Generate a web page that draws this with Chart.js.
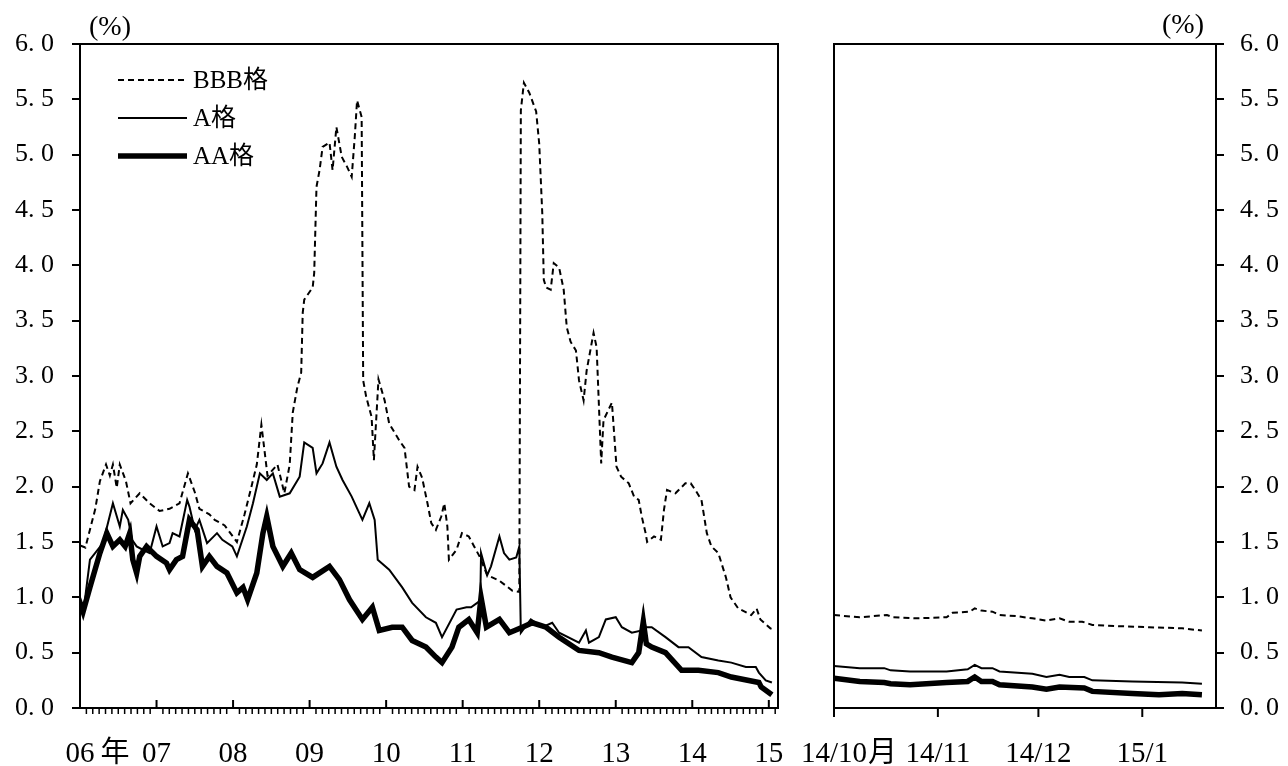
<!DOCTYPE html>
<html>
<head>
<meta charset="utf-8">
<script src="https://cdn.jsdelivr.net/npm/chart.js@4.4.1/dist/chart.umd.min.js"></script>
<style>
  html, body { margin: 0; padding: 0; background: #fff; }
  #wrap { position: relative; width: 1288px; height: 766px; overflow: hidden; }
  #left { position: absolute; left: 0; top: 0; }
  #right { position: absolute; left: 790px; top: 0; }
</style>
</head>
<body>
<div id="wrap">
  <canvas id="left" width="790" height="766"></canvas>
  <canvas id="right" width="498" height="766"></canvas>
</div>
<script>
// ---- data: long-run panel, [year, %] ----
const bbbLong = [
  [2006.00,1.47],[2006.07,1.45],[2006.20,1.80],[2006.26,2.05],[2006.34,2.20],[2006.39,2.10],[2006.43,2.20],
  [2006.48,1.99],[2006.52,2.20],[2006.60,2.05],[2006.66,1.85],[2006.78,1.94],[2006.91,1.85],[2007.04,1.78],
  [2007.17,1.80],[2007.30,1.85],[2007.41,2.12],[2007.50,1.95],[2007.56,1.80],[2007.69,1.75],[2007.76,1.70],
  [2007.89,1.65],[2008.05,1.50],[2008.15,1.75],[2008.24,2.00],[2008.31,2.20],[2008.37,2.56],[2008.45,2.10],
  [2008.58,2.20],[2008.67,1.94],[2008.74,2.20],[2008.78,2.67],[2008.84,2.90],[2008.89,3.03],[2008.91,3.57],
  [2008.93,3.69],[2009.04,3.80],[2009.06,3.93],[2009.09,4.71],[2009.13,4.86],[2009.17,5.07],[2009.26,5.11],
  [2009.30,4.86],[2009.35,5.25],[2009.42,4.98],[2009.49,4.89],[2009.55,4.80],[2009.59,5.16],[2009.62,5.49],
  [2009.68,5.34],[2009.70,2.96],[2009.74,2.81],[2009.81,2.63],[2009.84,2.24],[2009.90,2.97],[2009.98,2.78],
  [2010.04,2.57],[2010.17,2.42],[2010.24,2.35],[2010.30,2.00],[2010.37,1.97],[2010.41,2.18],[2010.47,2.08],
  [2010.54,1.85],[2010.59,1.67],[2010.65,1.61],[2010.72,1.73],[2010.76,1.85],[2010.80,1.64],[2010.82,1.34],
  [2010.92,1.43],[2010.99,1.58],[2011.08,1.55],[2011.15,1.46],[2011.22,1.37],[2011.32,1.20],[2011.48,1.15],
  [2011.65,1.06],[2011.74,1.05],[2011.76,5.40],[2011.80,5.65],[2011.87,5.56],[2011.96,5.39],[2012.00,5.10],
  [2012.04,4.47],[2012.06,3.87],[2012.09,3.80],[2012.15,3.78],[2012.19,4.02],[2012.26,3.98],[2012.32,3.78],
  [2012.36,3.44],[2012.41,3.31],[2012.48,3.23],[2012.52,2.96],[2012.58,2.78],[2012.62,3.05],[2012.71,3.39],
  [2012.75,3.26],[2012.81,2.21],[2012.84,2.60],[2012.95,2.76],[2013.01,2.18],[2013.07,2.09],[2013.17,2.03],
  [2013.24,1.91],[2013.30,1.88],[2013.34,1.73],[2013.39,1.58],[2013.41,1.50],[2013.50,1.55],[2013.59,1.52],
  [2013.63,1.79],[2013.67,1.97],[2013.78,1.94],[2013.91,2.03],[2013.98,2.03],[2014.04,1.97],[2014.12,1.88],
  [2014.19,1.58],[2014.25,1.46],[2014.34,1.40],[2014.44,1.18],[2014.50,1.00],[2014.60,0.90],[2014.77,0.84],
  [2014.84,0.90],[2014.89,0.80],[2015.02,0.72],[2015.06,0.71]
];
const aLong = [
  [2006.00,1.00],[2006.05,0.90],[2006.13,1.34],[2006.30,1.49],[2006.43,1.85],[2006.52,1.64],[2006.56,1.79],
  [2006.63,1.70],[2006.68,1.52],[2006.74,1.46],[2006.82,1.43],[2006.91,1.40],[2007.00,1.64],[2007.08,1.46],
  [2007.17,1.49],[2007.21,1.58],[2007.30,1.55],[2007.40,1.88],[2007.43,1.82],[2007.50,1.61],[2007.56,1.70],
  [2007.66,1.49],[2007.79,1.58],[2007.86,1.52],[2007.99,1.46],[2008.05,1.37],[2008.18,1.64],[2008.26,1.85],
  [2008.35,2.12],[2008.44,2.06],[2008.52,2.12],[2008.61,1.91],[2008.74,1.94],[2008.87,2.09],[2008.93,2.40],
  [2009.04,2.35],[2009.09,2.12],[2009.17,2.21],[2009.26,2.40],[2009.35,2.18],[2009.43,2.06],[2009.55,1.91],
  [2009.61,1.82],[2009.69,1.70],[2009.78,1.85],[2009.85,1.70],[2009.89,1.34],[2010.04,1.25],[2010.21,1.09],
  [2010.34,0.95],[2010.52,0.82],[2010.65,0.77],[2010.73,0.64],[2010.92,0.89],[2011.05,0.91],[2011.11,0.91],
  [2011.23,0.97],[2011.24,1.40],[2011.32,1.20],[2011.37,1.28],[2011.48,1.55],[2011.54,1.40],[2011.61,1.34],
  [2011.70,1.36],[2011.74,1.46],[2011.76,0.68],[2011.89,0.80],[2012.04,0.73],[2012.17,0.77],[2012.26,0.68],
  [2012.52,0.59],[2012.61,0.70],[2012.65,0.59],[2012.78,0.64],[2012.87,0.80],[2013.00,0.82],[2013.08,0.73],
  [2013.21,0.68],[2013.34,0.70],[2013.36,0.85],[2013.39,0.73],[2013.47,0.73],[2013.65,0.64],[2013.82,0.55],
  [2013.95,0.55],[2014.12,0.46],[2014.34,0.43],[2014.51,0.41],[2014.70,0.37],[2014.83,0.37],[2014.87,0.32],
  [2014.96,0.25],[2015.04,0.23]
];
const aaLong = [
  [2006.00,0.95],[2006.04,0.87],[2006.13,1.09],[2006.26,1.40],[2006.35,1.58],[2006.43,1.46],[2006.52,1.52],
  [2006.59,1.46],[2006.65,1.58],[2006.69,1.34],[2006.74,1.22],[2006.78,1.37],[2006.87,1.46],[2007.00,1.37],
  [2007.13,1.31],[2007.17,1.25],[2007.26,1.34],[2007.34,1.37],[2007.43,1.70],[2007.53,1.61],[2007.60,1.28],
  [2007.69,1.37],[2007.79,1.28],[2007.92,1.22],[2008.05,1.04],[2008.13,1.09],[2008.19,0.98],[2008.31,1.22],
  [2008.39,1.58],[2008.44,1.73],[2008.52,1.46],[2008.65,1.28],[2008.76,1.40],[2008.87,1.25],[2009.04,1.18],
  [2009.26,1.28],[2009.39,1.16],[2009.52,0.98],[2009.69,0.80],[2009.82,0.91],[2009.91,0.70],[2010.08,0.73],
  [2010.21,0.73],[2010.34,0.61],[2010.52,0.55],[2010.65,0.46],[2010.73,0.41],[2010.86,0.55],[2010.95,0.73],
  [2011.08,0.80],[2011.19,0.68],[2011.24,1.00],[2011.31,0.73],[2011.48,0.80],[2011.61,0.68],[2011.78,0.73],
  [2011.91,0.77],[2012.09,0.73],[2012.26,0.64],[2012.52,0.52],[2012.78,0.50],[2012.95,0.46],[2013.21,0.41],
  [2013.30,0.50],[2013.36,0.78],[2013.40,0.58],[2013.47,0.55],[2013.65,0.50],[2013.86,0.34],[2014.08,0.34],
  [2014.34,0.32],[2014.51,0.28],[2014.87,0.23],[2014.90,0.19],[2015.04,0.12]
];

// ---- data: recent panel, [days since 2014/10/1, %] ----
const bbbRecent = [
  [0,0.84],[7.7,0.82],[15.8,0.84],[17.6,0.82],[24.7,0.81],[33.6,0.82],[35.4,0.86],[40.5,0.87],[42,0.90],
  [44,0.88],[47.3,0.87],[49.4,0.84],[54.5,0.83],[59.2,0.81],[63.4,0.79],[67.3,0.81],[70.2,0.78],[74.1,0.78],
  [77.1,0.75],[84.2,0.74],[94,0.73],[103.9,0.72],[109.8,0.70]
];
const aRecent = [
  [0,0.38],[7.7,0.36],[15,0.36],[16.9,0.34],[22.7,0.33],[33.6,0.33],[39.9,0.35],[42,0.39],[44,0.36],
  [47.3,0.36],[49.4,0.33],[59.2,0.31],[63.4,0.28],[67.3,0.30],[70.2,0.28],[74.7,0.28],[77.1,0.25],
  [89,0.24],[103.9,0.23],[109.8,0.22]
];
const aaRecent = [
  [0,0.27],[7.7,0.24],[15,0.23],[16.9,0.22],[22.7,0.21],[33.6,0.23],[39.9,0.24],[42,0.28],[44,0.24],
  [47.3,0.24],[49.4,0.21],[59.2,0.19],[63.4,0.17],[67.3,0.19],[74.7,0.18],[77.1,0.15],[89,0.13],
  [97,0.12],[103.9,0.13],[109.8,0.12]
];

// ---- tick labels ----
const seriesNames = ['BBB格', 'A格', 'AA格'];
const yearTicks = [2006, 2007, 2008, 2009, 2010, 2011, 2012, 2013, 2014, 2015];
const yearLabels = ['06', '07', '08', '09', '10', '11', '12', '13', '14', '15'];
const monthTicks = [0, 31, 61, 92];
const monthLabels = ['14/10', '14/11', '14/12', '15/1'];

const FONT = "'Liberation Serif', 'Noto Sans CJK JP', serif";

function series(pairs, i) {
  const styles = [
    { borderWidth: 2, borderDash: [6, 4] },
    { borderWidth: 2, borderDash: [] },
    { borderWidth: 5.5, borderDash: [] }
  ];
  return Object.assign({
    label: seriesNames[i],
    data: pairs.map(p => ({ x: p[0], y: p[1] })),
    borderColor: '#000',
    pointRadius: 0,
    tension: 0,
    fill: false
  }, styles[i]);
}

function line(ctx, x1, y1, x2, y2) {
  ctx.beginPath(); ctx.moveTo(x1, y1); ctx.lineTo(x2, y2); ctx.stroke();
}

// draws frame, x ticks/labels, unit label and (optionally) the legend
function decor(cfg) {
  return {
    id: 'decor',
    afterDraw(chart) {
      const ctx = chart.ctx;
      const { left, right, top, bottom } = chart.chartArea;
      const xs = chart.scales.x;
      ctx.save();
      ctx.strokeStyle = '#000';
      ctx.fillStyle = '#000';
      ctx.lineWidth = 2;
      ctx.setLineDash([]);
      ctx.strokeRect(left, top, right - left, bottom - top);
      if (cfg.side === 'left') line(ctx, left - 8, top, left, top);
      else { line(ctx, right, top, right + 8, top); line(ctx, right, bottom, right + 8, bottom); }

      // major ticks
      cfg.ticks.forEach(v => {
        const px = xs.getPixelForValue(v);
        if (cfg.side === 'left') line(ctx, px, bottom, px, bottom - 8);
        else line(ctx, px, bottom, px, bottom + 9);
      });
      // monthly minor ticks on the long panel
      if (cfg.minor) {
        ctx.lineWidth = 1.5;
        for (let m = 1; xs.min + m / 12 <= xs.max; m++) {
          if (m % 12 === 0) continue;
          const px = xs.getPixelForValue(xs.min + m / 12);
          line(ctx, px, bottom, px, bottom + 6);
        }
      }

      // x labels: first one carries a suffix after the centred part
      ctx.font = '29px ' + FONT;
      ctx.textBaseline = 'middle';
      cfg.ticks.forEach((v, i) => {
        const px = xs.getPixelForValue(v);
        const txt = cfg.labels[i];
        ctx.textAlign = 'center';
        ctx.fillText(txt, px, 754);
        if (i === 0) {
          const w = ctx.measureText(txt).width;
          ctx.textAlign = 'left';
          ctx.fillText(cfg.suffix, px + w / 2 + cfg.gap, 754);
        }
      });

      // unit
      ctx.font = '28px ' + FONT;
      ctx.textAlign = 'center';
      ctx.fillText('(%)', cfg.unitX, cfg.unitY);

      // legend
      if (cfg.legend) {
        ctx.font = '25px ' + FONT;
        chart.data.datasets.forEach((ds, i) => {
          const y = 80 + i * 38;
          ctx.lineWidth = ds.borderWidth;
          ctx.setLineDash(ds.borderDash || []);
          line(ctx, 118, y, 187, y);
          ctx.setLineDash([]);
          ctx.textAlign = 'left';
          ctx.fillText(ds.label, 193, y + 1);
        });
      }
      ctx.restore();
    }
  };
}

function yAxis(pos, pad, width) {
  return {
    position: pos,
    min: 0, max: 6,
    ticks: {
      stepSize: 0.5,
      color: '#000',
      padding: pad,
      font: { family: FONT, size: 26 },
      callback: v => v.toFixed(1).replace('.', '. ')
    },
    grid: { drawOnChartArea: false, drawTicks: true, tickLength: 8, color: '#000', lineWidth: 2 },
    border: { display: false },
    afterFit(scale) { scale.width = width; }
  };
}

function xAxis(min, max) {
  return {
    type: 'linear', min: min, max: max,
    ticks: { display: false },
    grid: { display: false },
    border: { display: false },
    afterFit(scale) { scale.height = 58; }
  };
}

const common = {
  responsive: false,
  animation: false,
  events: [],
  plugins: { legend: { display: false }, tooltip: { enabled: false } }
};

new Chart(document.getElementById('left'), {
  type: 'line',
  data: { datasets: [series(bbbLong, 0), series(aLong, 1), series(aaLong, 2)] },
  options: Object.assign({}, common, {
    layout: { padding: { top: 44, right: 12, left: 0, bottom: 0 } },
    scales: { x: xAxis(2006, 2015.12), y: yAxis('left', 18, 80) }
  }),
  plugins: [decor({
    side: 'left', ticks: yearTicks, labels: yearLabels, suffix: '年', gap: 6,
    minor: true, unitX: 110, unitY: 28, legend: true
  })]
});

new Chart(document.getElementById('right'), {
  type: 'line',
  data: { datasets: [series(bbbRecent, 0), series(aRecent, 1), series(aaRecent, 2)] },
  options: Object.assign({}, common, {
    layout: { padding: { top: 44, right: 0, left: 44, bottom: 0 } },
    scales: { x: xAxis(0, 114), y: yAxis('right', 16, 72) }
  }),
  plugins: [decor({
    side: 'right', ticks: monthTicks, labels: monthLabels, suffix: '月', gap: 1,
    minor: false, unitX: 393, unitY: 26, legend: false
  })]
});
</script>
</body>
</html>
